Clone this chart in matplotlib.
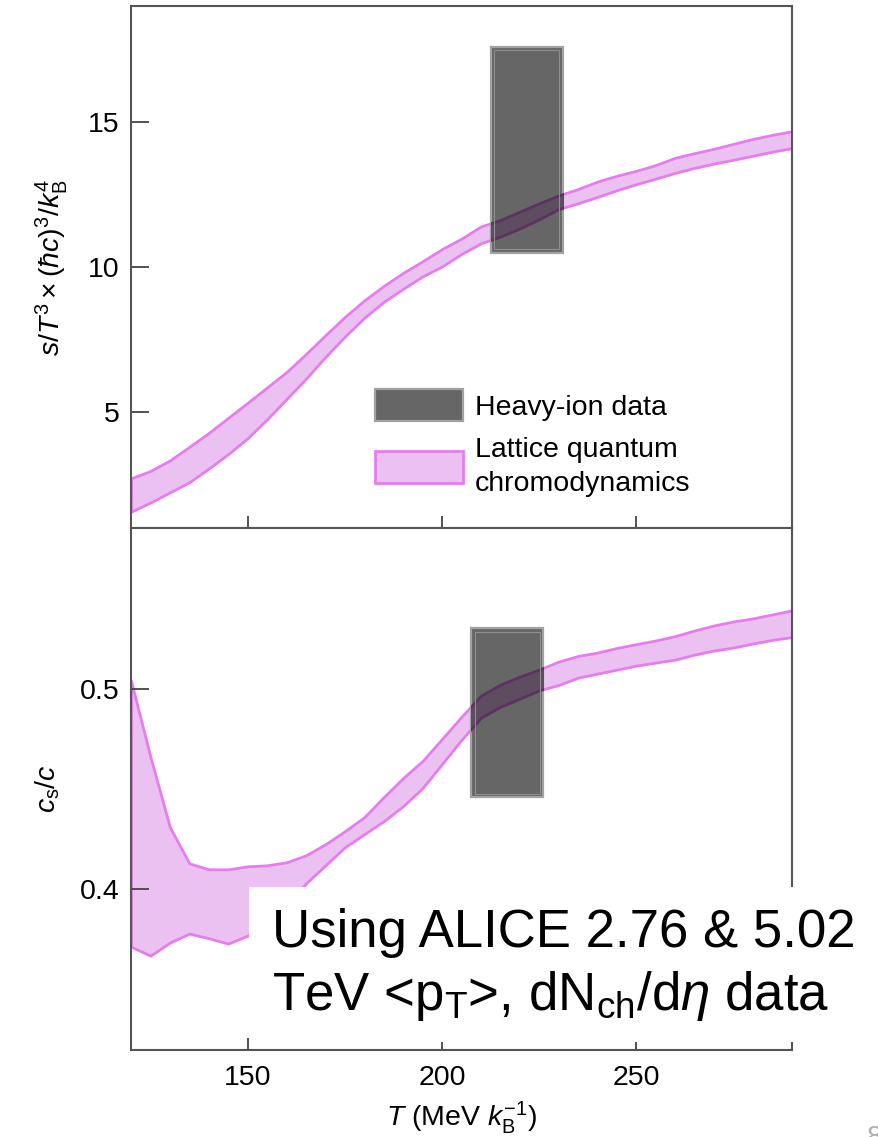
import matplotlib
matplotlib.use('Agg')
import matplotlib.pyplot as plt
import numpy as np
from matplotlib.patches import Rectangle, Patch
import matplotlib.colors as mcolors

plt.rcParams['font.family'] = ['Liberation Sans', 'DejaVu Sans']
plt.rcParams['mathtext.fontset'] = 'custom'
plt.rcParams['mathtext.rm'] = 'Liberation Sans'
plt.rcParams['mathtext.it'] = 'Liberation Sans:italic'
plt.rcParams['mathtext.bf'] = 'Liberation Sans:bold'

# ---------------- data ----------------
T = [120, 125, 130, 135, 140, 145, 150, 155, 160, 165, 170, 175, 180, 185,
     190, 195, 200, 205, 210, 215, 220, 225, 230, 235, 240, 245, 250, 255,
     260, 265, 270, 275, 280, 285, 290]

s_upper = [2.71, 2.97, 3.33, 3.80, 4.28, 4.80, 5.32, 5.85, 6.38, 7.00, 7.65,
           8.28, 8.85, 9.35, 9.80, 10.20, 10.62, 10.98, 11.40, 11.62, 11.91,
           12.20, 12.47, 12.69, 12.95, 13.15, 13.32, 13.52, 13.77, 13.93,
           14.08, 14.25, 14.42, 14.56, 14.68]
s_lower = [1.56, 1.88, 2.23, 2.58, 3.05, 3.55, 4.10, 4.75, 5.45, 6.15, 6.90,
           7.60, 8.25, 8.80, 9.25, 9.68, 10.02, 10.45, 10.82, 11.05, 11.33,
           11.65, 12.00, 12.20, 12.42, 12.65, 12.86, 13.05, 13.25, 13.42,
           13.57, 13.70, 13.84, 13.98, 14.10]

cs_upper = [0.504, 0.466, 0.431, 0.413, 0.410, 0.410, 0.4115, 0.412, 0.4135,
            0.417, 0.4225, 0.429, 0.436, 0.446, 0.4555, 0.464, 0.475, 0.486,
            0.4965, 0.502, 0.506, 0.5095, 0.5135, 0.5163, 0.518, 0.5203,
            0.5222, 0.524, 0.5262, 0.529, 0.5315, 0.5335, 0.535, 0.537, 0.539]
cs_lower = [0.3715, 0.367, 0.3735, 0.378, 0.3757, 0.373, 0.377, 0.383, 0.392,
            0.403, 0.412, 0.421, 0.4275, 0.434, 0.4415, 0.4505, 0.4625, 0.4745,
            0.4855, 0.491, 0.495, 0.4992, 0.5018, 0.5055, 0.5075, 0.5095,
            0.5115, 0.513, 0.5145, 0.517, 0.519, 0.5205, 0.5225, 0.5243, 0.5257]

# heavy-ion data boxes: (T min, T max) and (value min, value max)
hi_s_T = [212.5, 231.0]
hi_s_val = [10.5, 17.6]
hi_cs_T = [207.5, 226.0]
hi_cs_val = [0.446, 0.530]

x_ticks = [150, 200, 250]
s_ticks = [5, 10, 15]
cs_ticks = [0.4, 0.5]

# ---------------- styles ----------------
band_fill = '#EBC1F1'
band_edge = '#E67DEF'
box_face = '#666666'
box_edge = '#a2a2a2'
box_inner = '#8e8e8e'
spine_col = '#555555'
FS = 20.5


def mult(c1, c2):
    a = np.array(mcolors.to_rgb(c1))
    b = np.array(mcolors.to_rgb(c2))
    return tuple(a * b)


fig = plt.figure(figsize=(8.79, 11.37), dpi=100)
ax1 = fig.add_axes([0.149, 0.5356, 0.752, 0.4591])
ax2 = fig.add_axes([0.149, 0.0765, 0.752, 0.4591])
ax1.set_xlim(120, 290)
ax2.set_xlim(120, 290)
ax1.set_ylim(1, 19)
ax2.set_ylim(0.32, 0.58)


def draw_panel(ax, lower, upper, boxT, boxV):
    ax.fill_between(T, lower, upper, facecolor=band_fill, edgecolor=band_edge,
                    linewidth=2.0, zorder=1)
    rect = Rectangle((boxT[0], boxV[0]), boxT[1] - boxT[0], boxV[1] - boxV[0],
                     facecolor=box_face, edgecolor=box_edge, linewidth=1.6,
                     zorder=2)
    ax.add_patch(rect)
    clip = Rectangle((boxT[0], boxV[0]), boxT[1] - boxT[0], boxV[1] - boxV[0],
                     transform=ax.transData, visible=False)
    ax.add_patch(clip)
    pc = ax.fill_between(T, lower, upper, facecolor=mult(box_face, band_fill),
                         edgecolor=mult(box_face, band_edge), linewidth=2.0,
                         zorder=3)
    pc.set_clip_path(clip)
    # thin inner outline, inset by ~3 px
    inv = ax.transData.inverted()
    p0 = ax.transData.transform((boxT[0], boxV[0]))
    p1 = ax.transData.transform((boxT[1], boxV[1]))
    q0 = inv.transform(p0 + np.array([3.5, 3.5]))
    q1 = inv.transform(p1 - np.array([3.5, 3.5]))
    ax.add_patch(Rectangle(tuple(q0), q1[0] - q0[0], q1[1] - q0[1],
                           facecolor='none', edgecolor=box_inner,
                           linewidth=0.8, zorder=4))


draw_panel(ax1, s_lower, s_upper, hi_s_T, hi_s_val)
draw_panel(ax2, cs_lower, cs_upper, hi_cs_T, hi_cs_val)

for ax in (ax1, ax2):
    ax.set_xticks(x_ticks)
    for sp in ax.spines.values():
        sp.set_color(spine_col)
        sp.set_linewidth(1.5)
    ax.tick_params(axis='y', direction='in', length=13, width=1.3,
                   colors='#444444', labelcolor='black', labelsize=FS, pad=8)
    ax.tick_params(axis='x', direction='in', length=9, width=1.3,
                   colors='#444444', labelcolor='black', labelsize=FS, pad=11)

ax1.set_yticks(s_ticks)
ax1.set_xticklabels([])
ax2.set_yticks(cs_ticks)
ax2.set_yticklabels(['0.4', '0.5'])

ax1.set_ylabel(r'$s/T^{3}\times(\hbar c)^{3}/k_{\mathregular{B}}^{4}$',
               fontsize=FS, labelpad=13)
ax2.set_ylabel(r'$c_{\mathregular{s}}/c$', fontsize=FS, labelpad=13)
ax2.set_xlabel(r'$T$ (MeV $k_{\mathregular{B}}^{-1}$)', fontsize=FS,
               labelpad=6)

handles = [Patch(facecolor=box_face, edgecolor=box_edge, linewidth=1.6),
           Patch(facecolor=band_fill, edgecolor=band_edge, linewidth=2.0)]
leg = ax1.legend(handles, ['Heavy-ion data', 'Lattice quantum\nchromodynamics'],
                 loc='upper left', bbox_to_anchor=(0.369, 0.266),
                 frameon=False, fontsize=FS, handlelength=3.1,
                 handleheight=1.35, handletextpad=0.42, labelspacing=0.55,
                 borderpad=0, borderaxespad=0)
for t in leg.get_texts():
    t.set_linespacing(1.4)

# slide annotation (white box + large text)
fig.patches.append(Rectangle((249 / 879, 1 - 1042 / 1137), 1 - 249 / 879,
                             (1042 - 887) / 1137, transform=fig.transFigure,
                             facecolor='white', edgecolor='none', zorder=10))
fig.text(272 / 879, 1 - 908 / 1137,
         'Using ALICE 2.76 & 5.02\n'
         r'TeV <p$_{\mathregular{T}}$>, dN$_{\mathregular{ch}}$/d$\eta$ data',
         fontsize=38, ha='left', va='top', zorder=11, linespacing=1.27)
fig.text(0.986, -0.012, '8', fontsize=20, color='#b0b0b0', ha='left',
         va='bottom', zorder=11)

fig.savefig('out.png', dpi=100)
